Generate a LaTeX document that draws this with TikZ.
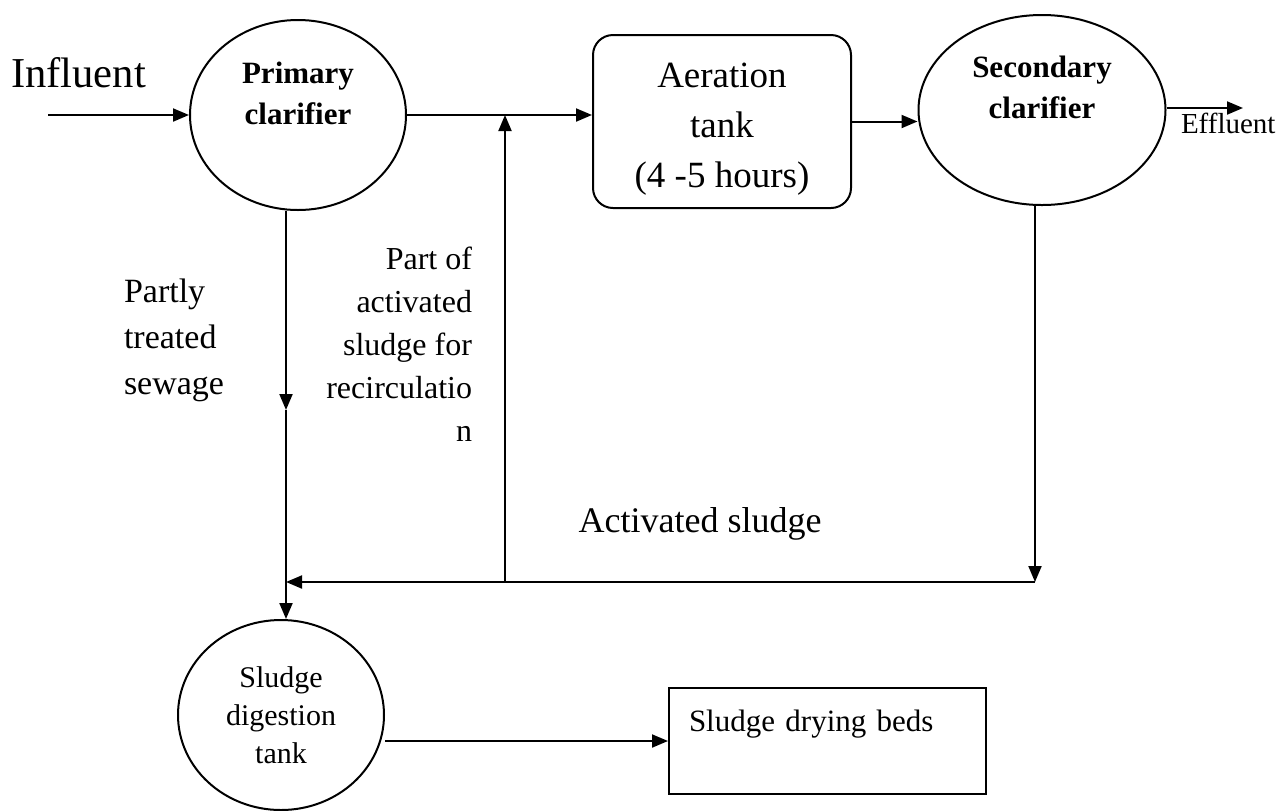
\documentclass[tikz,border=0pt]{standalone}
\usepackage{fontspec}
\setmainfont{Liberation Serif}
\usetikzlibrary{positioning,arrows.meta,shapes.geometric}

\begin{document}
\begin{tikzpicture}[
  x=0.5pt, y=-0.5pt,
  line width=1pt,
  tank/.style={draw, ellipse, inner sep=0pt},
  box/.style={draw, inner sep=0pt},
  head/.style={font=\fontsize{15.5}{20.5}\selectfont\bfseries, align=center},
  lbl/.style={inner sep=0pt},
  arrow/.style={-{Triangle[length=8pt, width=6.5pt]}}]
\useasboundingbox (0,0) rectangle (1286,810);
% main line
\node[tank, minimum width=108pt, minimum height=95pt] (primary) at (298,115) {};
\node[head] (primarytext) at (298,93) {Primary\\clarifier};
\node[box, rounded corners=10pt, minimum width=129pt, minimum height=86.5pt,
  font=\fontsize{18.5}{25}\selectfont, align=center] (aeration) at (722,121.5) {\rule{0pt}{20pt}Aeration\\tank\\(4 -5 hours)};
\node[tank, minimum width=123.5pt, minimum height=95pt] (secondary) at (1042,110) {};
\node[head] (secondarytext) at (1042,87.5) {Secondary\\clarifier};
% sludge line
\node[tank, minimum width=103pt, minimum height=95pt,
  font=\fontsize{15}{19}\selectfont, align=center] (digestion) at (281,715) {Sludge\\digestion\\tank};
\node[box, anchor=north west, text width=138.5pt, inner xsep=10pt, inner ysep=9pt,
  text height=12.5pt, text depth=22.5pt, font=\fontsize{15.5}{19}\selectfont] (drying) at (668,687) {Sludge drying beds};
% labels
\node[lbl, font=\fontsize{21.3}{26}\selectfont, anchor=base west] (influent) at (10,87) {Influent};
\node[lbl, font=\fontsize{14.5}{18}\selectfont, anchor=base west] (effluent) at (1180,133) {Effluent};
\node[lbl, font=\fontsize{17}{23}\selectfont, anchor=north west, align=left] (partly) at (123,278) {Partly\\treated\\sewage};
\node[lbl, font=\fontsize{16}{21.5}\selectfont, anchor=north east, align=right] (partof) at (473,246) {Part of\\activated\\sludge for\\recirculatio\\n};
\node[lbl, font=\fontsize{18}{22}\selectfont, anchor=base] (actlabel) at (700,532) {Activated sludge};
% connectors
\coordinate (inlet) at (48,115);
\coordinate (outlet) at (1243,108);
\coordinate (mid) at (286,410);
\coordinate (junc) at (286,582);
\coordinate (sret) at (1035,582);
\coordinate (recirc) at (505,582);
\draw[arrow] (inlet) -- (primary.west);
\draw[arrow] (primary.east) -- (primary.east -| aeration.west);
\draw[arrow] (aeration.east) -- (aeration.east -| secondary.west);
\draw[arrow] (secondary.east |- outlet) -- (outlet);
\draw[arrow] (primary.south -| mid) -- (mid);
\draw[arrow] (mid) -- (digestion.north -| mid);
\draw[arrow] (secondary.south -| sret) -- (sret);
\draw[arrow] (sret) -- (junc);
\draw[arrow] (recirc) -- (recirc |- primary.east);
\draw[arrow] (digestion.east |- drying.west) -- (drying.west);
\end{tikzpicture}
\end{document}
